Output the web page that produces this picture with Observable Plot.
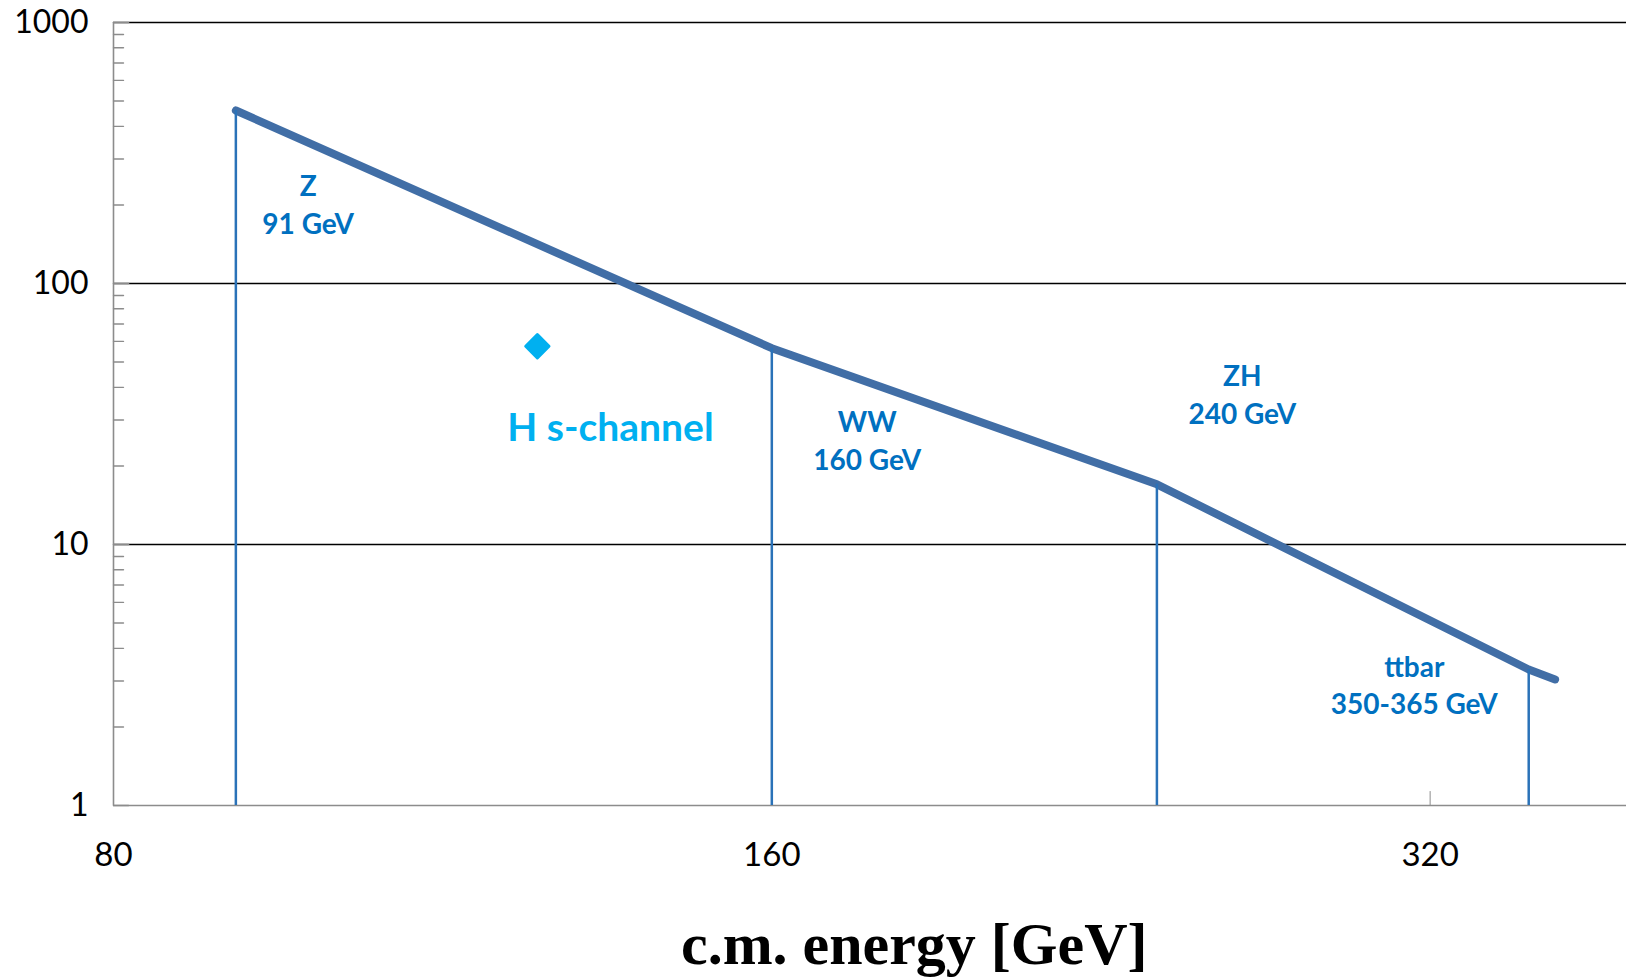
<!DOCTYPE html>
<html>
<head>
<meta charset="utf-8">
<script src="https://cdn.jsdelivr.net/npm/d3@7"></script>
<script src="https://cdn.jsdelivr.net/npm/@observablehq/plot@0.6"></script>
<style>
  html, body { margin: 0; padding: 0; background: #fff; }
  #wrap { position: relative; width: 1626px; height: 979px; }
  #title {
    position: absolute; left: 681px; top: 914px;
    font-family: "Liberation Serif", "Times New Roman", serif;
    font-weight: bold; font-size: 60px; line-height: 1; color: #000;
    white-space: nowrap;
  }
</style>
</head>
<body>
<div id="wrap">
  <div id="chart"></div>
  <div id="title">c.m. energy [GeV]</div>
</div>
<script>
// Luminosity envelope vs centre-of-mass energy (log–log)
const energy = [91, 160, 240, 355, 365];
const lumi   = [460, 56.5, 17.0, 3.32, 3.04];

// Operating points: energy and the luminosity where each drop line meets the envelope
const pointEnergy = [91, 160, 240, 355];
const pointLumi   = [460, 56.5, 17.0, 3.32];

// Region labels
const labelText   = ["Z\n91 GeV", "WW\n160 GeV", "ZH\n240 GeV", "ttbar\n350-365 GeV"];
const labelEnergy = [98.2, 176.9, 262.6, 314.7];
const labelLumi   = [203, 25.4, 38.1, 2.94];

// Higgs s-channel point
const hEnergy = [125];
const hLumi   = [57.5];
const hText   = ["H s-channel"];
const hTextEnergy = [135];
const hTextLumi   = [27.7];

// Axis ticks
const xTicks = [80, 160, 320];
const yTicks = [1, 10, 100, 1000];
const yMinor = [1, 10, 100].flatMap(d => [2, 3, 4, 5, 6, 7, 8, 9].map(k => k * d));

const envelope = energy.map((e, i) => ({energy: e, lumi: lumi[i]}));
const points = pointEnergy.map((e, i) => ({energy: e, lumi: pointLumi[i]}));
const labels = labelText.map((t, i) => ({text: t, energy: labelEnergy[i], lumi: labelLumi[i]}));
const higgs = hEnergy.map((e, i) => ({energy: e, lumi: hLumi[i]}));
const higgsLabel = hText.map((t, i) => ({text: t, energy: hTextEnergy[i], lumi: hTextLumi[i]}));

const axisGray = "#8c8c8c";

// plain straight tick, no arrowhead
const tickShape = {draw(context, l) { context.moveTo(0, 0); context.lineTo(0, -l); }};

const chart = Plot.plot({
  width: 1626,
  height: 890,
  marginLeft: 113,
  marginRight: 0,
  marginTop: 22,
  marginBottom: 85,
  style: {fontFamily: "Lato, 'Open Sans', sans-serif", background: "#fff", overflow: "visible"},
  x: {type: "log", base: 2, domain: [80, 393.5]},
  y: {type: "log", domain: [1, 1000]},
  marks: [
    // horizontal gridlines at the decades
    Plot.ruleY(yTicks.filter(d => d > 1), {stroke: "#000", strokeWidth: 1.6}),
    // axis lines
    Plot.ruleX([80], {stroke: axisGray, strokeWidth: 1.6}),
    Plot.ruleY([1], {stroke: axisGray, strokeWidth: 1.6}),
    // inward y ticks
    Plot.vector(yTicks, {y: d => d, frameAnchor: "left", rotate: 90, length: 15, anchor: "start", shape: tickShape, stroke: axisGray, strokeWidth: 1.6}),
    Plot.vector(yMinor, {y: d => d, frameAnchor: "left", rotate: 90, length: 10, anchor: "start", shape: tickShape, stroke: axisGray, strokeWidth: 1.4}),
    // inward x ticks
    Plot.vector(xTicks.slice(1), {x: d => d, frameAnchor: "bottom", rotate: 0, length: 14, anchor: "start", shape: tickShape, stroke: axisGray, strokeWidth: 1}),
    Plot.axisY({ticks: yTicks, tickFormat: d => String(d), tickSize: 0, tickPadding: 25, fontSize: 32, label: null, color: "#000"}),
    Plot.axisX({ticks: xTicks, tickFormat: d => String(d), tickSize: 0, tickPadding: 37, fontSize: 33, label: null, color: "#000"}),
    // luminosity envelope
    Plot.line(envelope, {x: "energy", y: "lumi", stroke: "#416ea6", strokeWidth: 8, strokeLinecap: "round", strokeLinejoin: "round"}),
    // drop lines for the operating points
    Plot.ruleX(points, {x: "energy", y1: 1, y2: "lumi", stroke: "#2a72b8", strokeWidth: 2.5}),
    // Higgs s-channel point
    Plot.dot(higgs, {x: "energy", y: "lumi", symbol: "diamond2", r: 10.5, fill: "#00b0f0", stroke: "#00b0f0", strokeWidth: 3, strokeLinejoin: "round"}),
    Plot.text(higgsLabel, {x: "energy", y: "lumi", text: "text", fill: "#00b0f0", fontSize: 39, fontWeight: "bold"}),
    // region labels
    Plot.text(labels, {x: "energy", y: "lumi", text: "text", fill: "#0070c0", fontSize: 28, fontWeight: "bold", lineHeight: 1.34})
  ]
});

document.getElementById("chart").appendChild(chart);
</script>
</body>
</html>
